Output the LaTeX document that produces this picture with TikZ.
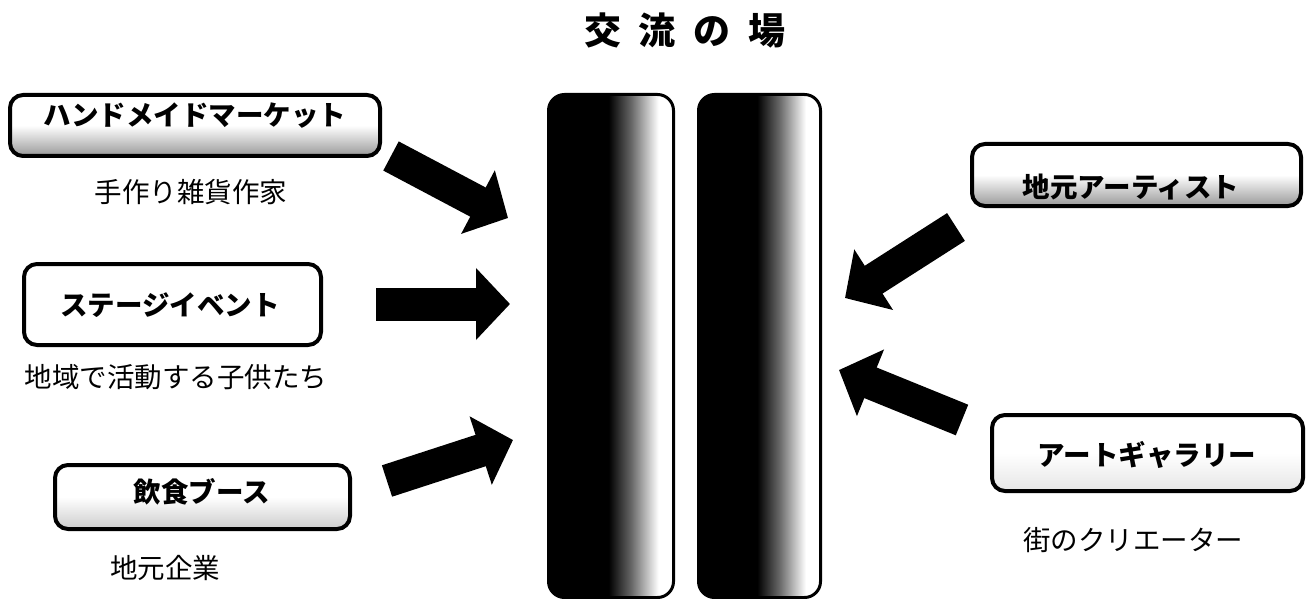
\documentclass[tikz,border=0pt]{standalone}
\usepackage{fontspec}
\newfontfamily\jp{Noto Sans CJK JP}
\usetikzlibrary{arrows.meta}
\pgfdeclarehorizontalshading{pillarshade}{100bp}{color(0bp)=(black); color(25bp)=(black); color(49bp)=(black); color(58bp)=(black!60); color(69bp)=(white); color(75bp)=(white); color(100bp)=(white)}
\begin{document}
\begin{tikzpicture}[x={(1pt,0pt)},y={(0pt,-1pt)},
  box/.style={draw, line width=4pt, rounded corners=13pt, inner sep=0pt},
  lbl/.style={font=\jp\bfseries\fontsize{27.5}{30}\selectfont, inner sep=0pt},
  sub/.style={font=\jp\fontsize{27.5}{30}\selectfont, inner sep=0pt},
  ttl/.style={font=\jp\bfseries\fontsize{37}{40}\selectfont, inner sep=0pt},
  pillar/.style={draw, line width=3pt, rounded corners=16pt, shading=pillarshade, inner sep=0pt},
  blk/.style={line width=33pt, -{Triangle[length=34pt,width=70pt]}}
]
\useasboundingbox (0,0) rectangle (1309,599);
% title
\node[ttl] (title) at (685,30) {交\hspace{18pt}流\hspace{18pt}の\hspace{18pt}場};
% pillars
\node[pillar, minimum width=125pt, minimum height=503pt] (p1) at (611,346) {};
\node[pillar, minimum width=122pt, minimum height=503pt] (p2) at (759.5,346) {};
% left boxes
\node[box, minimum width=370pt, minimum height=61pt, top color=white, bottom color=black!40, middle color=white] (b1) at (195,125.5) {};
\node[lbl] (t1) at (195,116) {ハンドメイドマーケット};
\node[sub] (s1) at (191,192) {手作り雑貨作家};
\node[box, minimum width=297pt, minimum height=81pt, fill=white] (b2) at (172.5,304.5) {};
\node[lbl] (t2) at (170,305) {ステージイベント};
\node[sub] (s2) at (176,377) {地域で活動する子供たち};
\node[box, minimum width=295pt, minimum height=64pt, top color=white, bottom color=black!20, middle color=white] (b3) at (202.5,497) {};
\node[lbl] (t3) at (202,492) {飲食ブース};
\node[sub] (s3) at (165,568) {地元企業};
% right boxes
\node[box, minimum width=329pt, minimum height=62pt, top color=white, bottom color=black!40, middle color=white] (r1) at (1136.5,175) {};
\node[lbl] (t4) at (1131,187) {地元アーティスト};
\node[box, minimum width=311pt, minimum height=76pt, top color=white, bottom color=black!10, middle color=white] (r2) at (1147.5,453) {};
\node[lbl] (t5) at (1147,455) {アートギャラリー};
\node[sub] (s5) at (1133,540) {街のクリエーター};
% arrows
\coordinate (a1s) at (391,156); \coordinate (a1e) at (508,218);
\coordinate (a2s) at (376,304); \coordinate (a2e) at (510,304);
\coordinate (a3s) at (387,481); \coordinate (a3e) at (513,440);
\coordinate (a4s) at (956,227); \coordinate (a4e) at (845,298);
\coordinate (a5s) at (962,420); \coordinate (a5e) at (839,370);
\draw[blk] (a1s) -- (a1e);
\draw[blk] (a2s) -- (a2e);
\draw[blk] (a3s) -- (a3e);
\draw[blk] (a4s) -- (a4e);
\draw[blk] (a5s) -- (a5e);
\end{tikzpicture}
\end{document}
